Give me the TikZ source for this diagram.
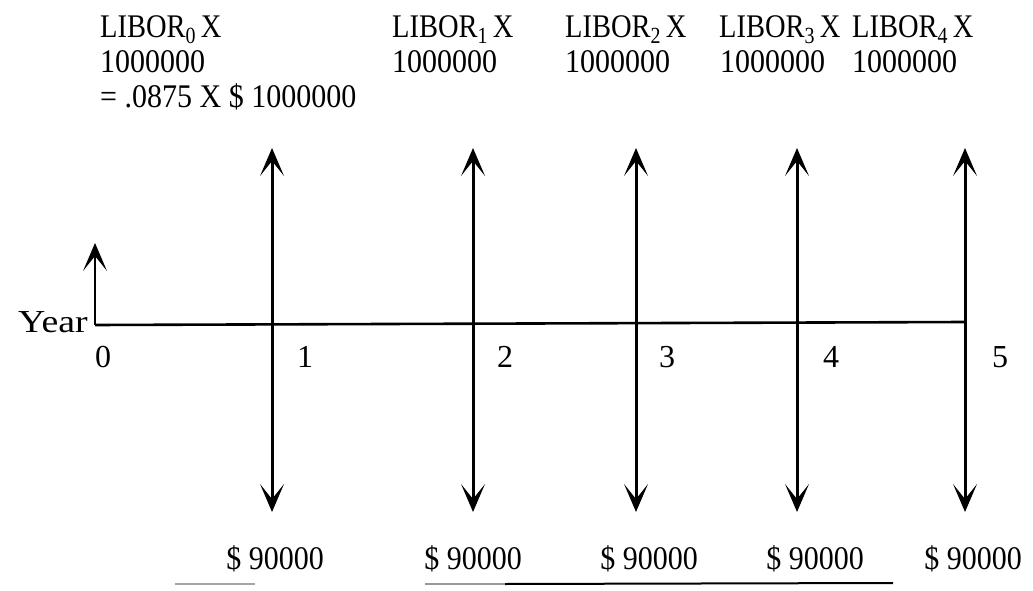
\documentclass[tikz,border=0pt]{standalone}
\usepackage{fontspec}
\setmainfont{Liberation Serif}
\usetikzlibrary{arrows.meta}
\newcommand{\tallt}[1]{\scalebox{1}[1.1]{#1}}
\newcommand{\libt}[1]{\scalebox{0.95}[1.1]{LIBOR\textsubscript{#1}\kern5pt X}}
\begin{document}
\begin{tikzpicture}[x=1pt,y=-1pt,
  lbl/.style={inner sep=0pt,anchor=base west,font=\fontsize{30}{34}\selectfont},
  clbl/.style={inner sep=0pt,anchor=base,font=\fontsize{30}{34}\selectfont},
  head/.tip={Stealth[length=28pt,width=24pt,inset=15pt,line width=0pt]},
  flow/.style={line width=3pt,head-head},
  axis/.style={line width=2.6pt},
  tick/.style={line width=2.6pt,-head},
  under/.style={line width=2pt}]
\useasboundingbox (0,0) rectangle (1033,591);
% top labels
\node[lbl] (l0) at (100,38) {\libt{0}};
\node[lbl] (l0b) at (100,73) {\tallt{1000000}};
\node[lbl] (l0c) at (100,108) {\tallt{= .0875 X \$ 1000000}};
\node[lbl] (l1) at (392,38) {\libt{1}};
\node[lbl] (l1b) at (392,73) {\tallt{1000000}};
\node[lbl] (l2) at (565,38) {\libt{2}};
\node[lbl] (l2b) at (565,73) {\tallt{1000000}};
\node[lbl] (l3) at (719,38) {\libt{3}};
\node[lbl] (l3b) at (720,73) {\tallt{1000000}};
\node[lbl] (l4) at (852,38) {\libt{4}};
\node[lbl] (l4b) at (852,73) {\tallt{1000000}};
% axis
\coordinate (o) at (95,325);
\coordinate (e) at (965,322);
\coordinate (oup) at (95,243);
\draw[axis] (o) -- (e);
\draw[tick] (o) -- (oup);
\node[lbl,anchor=base east,font=\fontsize{32}{36}\selectfont] (year) at (88,332) {\scalebox{1.18}[1]{Year}};
% flows
\foreach \i/\x in {1/272,2/473,3/636,4/797,5/965}{
  \coordinate (t\i) at (\x,148);
  \coordinate (b\i) at (\x,512);
  \draw[flow] (b\i) -- (t\i);
}
% year numbers
\foreach \n/\x in {0/103,1/305,2/505,3/667,4/831,5/1000}{
  \node[clbl,font=\fontsize{32}{36}\selectfont] (n\n) at (\x,367) {\n};
}
% payments
\foreach \i/\x in {1/275,2/473,3/649,4/815,5/973}{
  \node[clbl] (p\i) at (\x,569) {\tallt{\$ 90000}};
}
% faded underline from the scan
\coordinate (u1) at (175,584);
\coordinate (u2) at (255,584);
\coordinate (u3) at (425,584);
\coordinate (u4) at (505,584);
\coordinate (u5) at (893,583);
\draw[under,black!35] (u1) -- (u2);
\draw[under,black!40] (u3) -- (u4);
\draw[under] (u4) -- (u5);
\end{tikzpicture}
\end{document}
